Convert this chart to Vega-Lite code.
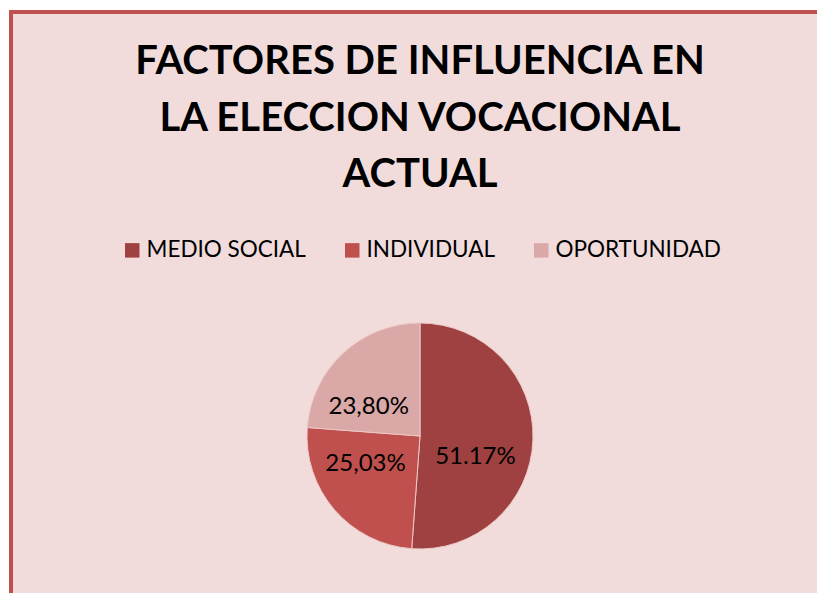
{
  "$schema": "https://vega.github.io/schema/vega-lite/v6.json",
  "autosize": {"type": "none"},
  "width": 840,
  "height": 610,
  "padding": {"left": 11, "top": 12, "right": -34, "bottom": -29},
  "background": "white",
  "view": {"fill": "#F2DCDB", "stroke": "#C0504D", "strokeWidth": 4},
  "config": {
    "view": {"fill": "#F2DCDB", "stroke": "#C0504D", "strokeWidth": 4},
    "font": "Lato"
  },
  "title": {
    "text": ["FACTORES DE INFLUENCIA EN", "LA ELECCION VOCACIONAL", "ACTUAL"],
    "font": "Lato",
    "fontSize": 40,
    "fontWeight": "bold",
    "color": "black",
    "lineHeight": 56.5,
    "anchor": "start",
    "frame": "group",
    "dx": 409,
    "align": "center",
    "offset": -183
  },
  "data": {
    "values": [
      {"factor": "MEDIO SOCIAL", "valor": 51.17, "etiqueta": "51.17%", "orden": 1},
      {"factor": "INDIVIDUAL", "valor": 25.03, "etiqueta": "25,03%", "orden": 2},
      {"factor": "OPORTUNIDAD", "valor": 23.80, "etiqueta": "23,80%", "orden": 3}
    ]
  },
  "layer": [
    {
      "mark": {"type": "arc", "radius": 113, "x": {"expr": "width/2 - 11"}, "y": {"expr": "height/2 + 119"}, "stroke": "#EBC8C7", "strokeWidth": 1},
      "encoding": {
        "theta": {"field": "valor", "type": "quantitative", "stack": true},
        "order": {"field": "orden", "type": "quantitative"},
        "color": {
          "field": "factor",
          "type": "nominal",
          "sort": ["MEDIO SOCIAL", "INDIVIDUAL", "OPORTUNIDAD"],
          "scale": {"domain": ["MEDIO SOCIAL", "INDIVIDUAL", "OPORTUNIDAD"], "range": ["#9E4140", "#C0504D", "#D9A8A7"]},
          "legend": {
            "orient": "none",
            "legendX": 110,
            "legendY": 227,
            "direction": "horizontal",
            "title": null,
            "symbolType": "square",
            "symbolSize": 210,
            "symbolStrokeWidth": 0,
            "labelFont": "Lato",
            "labelFontSize": 22.5,
            "labelColor": "black",
            "labelLimit": 0,
            "labelOffset": 3,
            "columnPadding": 35
          }
        }
      }
    },
    {
      "mark": {
        "type": "text",
        "radius": 60,
        "x": {"expr": "width/2 - 11"},
        "y": {"expr": "height/2 + 119"},
        "dx": {"expr": "datum.factor === 'MEDIO SOCIAL' ? -4.5 : (datum.factor === 'INDIVIDUAL' ? -9 : -10.5)"},
        "dy": {"expr": "datum.factor === 'MEDIO SOCIAL' ? 18.5 : (datum.factor === 'INDIVIDUAL' ? -11 : 15)"},
        "font": "Lato",
        "fontSize": 24,
        "color": "black"
      },
      "encoding": {
        "theta": {"field": "valor", "type": "quantitative", "stack": true},
        "order": {"field": "orden", "type": "quantitative"},
        "text": {"field": "etiqueta", "type": "nominal"}
      }
    }
  ]
}
